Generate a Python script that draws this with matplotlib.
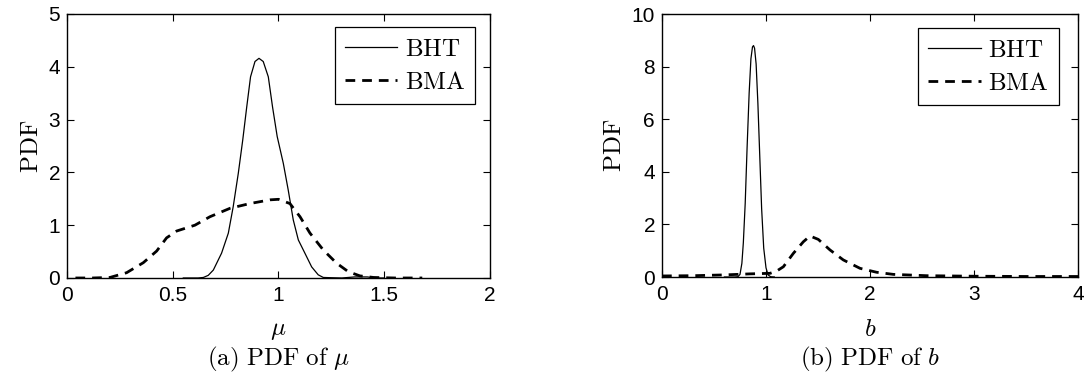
import matplotlib
matplotlib.use("Agg")
import matplotlib.pyplot as plt

plt.rcParams.update({
    "font.family": ["Liberation Sans", "DejaVu Sans"],
    "mathtext.fontset": "cm",
    "xtick.direction": "in",
    "ytick.direction": "in",
    "xtick.top": True,
    "ytick.right": True,
    "xtick.major.size": 5,
    "ytick.major.size": 5,
    "xtick.major.width": 0.8,
    "ytick.major.width": 0.8,
    "axes.linewidth": 1.0,
    "xtick.labelsize": 15,
    "ytick.labelsize": 15,
})

# (a) posterior of mu
mu_bht_x = [0.55, 0.62, 0.645, 0.668, 0.692, 0.731, 0.763, 0.786, 0.810, 0.831, 0.850,
            0.868, 0.889, 0.908, 0.928, 0.952, 0.972, 0.994, 1.023, 1.046, 1.070,
            1.094, 1.125, 1.157, 1.188, 1.212, 1.25, 1.30, 1.36, 1.42, 1.46, 1.50]
mu_bht_y = [0.0, 0.0, 0.01, 0.05, 0.15, 0.47, 0.85, 1.35, 1.98, 2.61, 3.24,
            3.81, 4.10, 4.16, 4.10, 3.81, 3.24, 2.68, 2.17, 1.67, 1.10,
            0.72, 0.47, 0.21, 0.06, 0.01, 0.005, 0.0, 0.02, 0.02, 0.0, 0.0]
mu_bma_x = [0.04, 0.12, 0.203, 0.282, 0.361, 0.424, 0.471, 0.519, 0.605, 0.676, 0.771,
            0.865, 0.960, 1.0, 1.054, 1.102, 1.149, 1.212, 1.275, 1.33, 1.385, 1.45,
            1.55, 1.68]
mu_bma_y = [0.0, 0.0, 0.01, 0.10, 0.29, 0.51, 0.76, 0.89, 1.00, 1.16, 1.32,
            1.41, 1.48, 1.49, 1.41, 1.16, 0.85, 0.53, 0.28, 0.12, 0.04, 0.01,
            0.0, 0.0]

# (b) posterior of b
b_bht_x = [0.60, 0.70, 0.73, 0.75, 0.768, 0.782, 0.800, 0.818, 0.838, 0.855, 0.870,
           0.880, 0.890, 0.905, 0.922, 0.940, 0.958, 0.978, 1.000, 1.020, 1.045, 1.08]
b_bht_y = [0.0, 0.0, 0.01, 0.10, 0.52, 1.30, 2.80, 4.90, 7.00, 8.30, 8.75,
           8.80, 8.70, 8.10, 6.60, 4.60, 2.60, 1.10, 0.35, 0.08, 0.01, 0.0]
b_bma_x = [0.0, 0.3, 0.6, 0.85, 1.038, 1.10, 1.167, 1.263, 1.359, 1.423, 1.503,
           1.615, 1.743, 1.904, 2.064, 2.224, 2.545, 3.0, 3.5, 4.0]
b_bma_y = [0.04, 0.05, 0.08, 0.12, 0.14, 0.22, 0.39, 0.90, 1.34, 1.56, 1.43,
           1.03, 0.65, 0.33, 0.18, 0.10, 0.05, 0.03, 0.02, 0.02]

panels = [
    dict(pos=[0.0615, 0.2587, 0.3884, 0.704], xlim=(0, 2), ylim=(0, 5),
         xticks=[0, 0.5, 1, 1.5, 2], xticklabels=["0", "0.5", "1", "1.5", "2"],
         yticks=[0, 1, 2, 3, 4, 5],
         bht=(mu_bht_x, mu_bht_y), bma=(mu_bma_x, mu_bma_y),
         xlabel=r"$\mu$", caption=r"$\mathrm{(a)\ PDF\ of}\ \mu$",
         leg_anchor=(0.965, 0.951)),
    dict(pos=[0.6079, 0.2613, 0.382, 0.7013], xlim=(0, 4), ylim=(0, 10),
         xticks=[0, 1, 2, 3, 4], xticklabels=["0", "1", "2", "3", "4"],
         yticks=[0, 2, 4, 6, 8, 10],
         bht=(b_bht_x, b_bht_y), bma=(b_bma_x, b_bma_y),
         xlabel=r"$b$", caption=r"$\mathrm{(b)\ PDF\ of}\ b$",
         leg_anchor=(0.954, 0.947)),
]

fig = plt.figure(figsize=(10.89, 3.75), dpi=100)

for p in panels:
    ax = fig.add_axes(p["pos"])
    ax.plot(*p["bht"], color="black", lw=0.9, label=r"$\mathrm{BHT}$")
    ax.plot(*p["bma"], color="black", lw=2.0, dashes=(3.5, 2.5), label=r"$\mathrm{BMA}$")
    ax.set_xlim(*p["xlim"])
    ax.set_ylim(*p["ylim"])
    ax.set_xticks(p["xticks"])
    ax.set_xticklabels(p["xticklabels"])
    ax.set_yticks(p["yticks"])
    ax.tick_params(axis="x", pad=6)
    ax.tick_params(axis="y", pad=5)
    ax.set_ylabel(r"$\mathrm{PDF}$", fontsize=18, labelpad=4)
    ax.set_xlabel(p["xlabel"], fontsize=18, labelpad=9)
    leg = ax.legend(loc="upper right", bbox_to_anchor=p["leg_anchor"], fontsize=18,
                    fancybox=False, edgecolor="black", framealpha=1,
                    handlelength=2.1, handletextpad=0.3, borderpad=0.4,
                    labelspacing=0.35, borderaxespad=0)
    leg.get_frame().set_linewidth(0.9)
    cx = p["pos"][0] + p["pos"][2] / 2
    fig.text(cx, 0.042, p["caption"], ha="center", va="center", fontsize=18)

fig.savefig("out.png", dpi=100)
